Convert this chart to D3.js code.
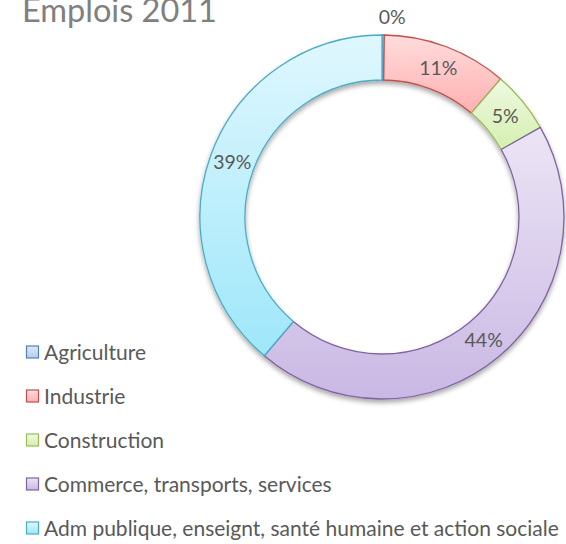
<!DOCTYPE html>
<html>
<head>
<meta charset="utf-8">
<script src="https://cdn.jsdelivr.net/npm/d3@7"></script>
<style>
  html, body { margin: 0; padding: 0; background: #fff; overflow: hidden; }
  svg { display: block; font-family: Lato, "Open Sans", sans-serif; }
</style>
</head>
<body>
<svg id="chart" width="566" height="544"></svg>
<script>
// Emplois 2011 - doughnut chart
const categories = ['Agriculture', 'Industrie', 'Construction', 'Commerce, transports, services', 'Adm publique, enseignt, santé humaine et action sociale'];
const values = [0.2, 11.1, 5.5, 44.4, 38.8];
const labels = ['0%', '11%', '5%', '44%', '39%'];

const fillTop = ['#dce8f7', '#ffdcdc', '#eff9e2', '#ece5f5', '#e0f7fe'];
const fillBottom = ['#b7cdec', '#ffb0b0', '#d5efb0', '#c9b8e4', '#9ee7fa'];
const strokes = ['#4f81bd', '#c0504d', '#9bbb59', '#8064a2', '#4bacc6'];

const width = 566, height = 544;
const cx = 382, cy = 217;
const outerR = 182, innerR = 137;

const svg = d3.select('#chart');
const defs = svg.append('defs');

categories.forEach((c, i) => {
  const g = defs.append('linearGradient')
    .attr('id', 'grad' + i)
    .attr('x1', 0).attr('y1', 0).attr('x2', 0).attr('y2', 1);
  g.append('stop').attr('offset', '0%').attr('stop-color', fillTop[i]);
  g.append('stop').attr('offset', '100%').attr('stop-color', fillBottom[i]);
});

const shadow = defs.append('filter').attr('id', 'shadow')
  .attr('x', '-10%').attr('y', '-10%').attr('width', '120%').attr('height', '125%');
shadow.append('feGaussianBlur').attr('in', 'SourceAlpha').attr('stdDeviation', 2.5);
shadow.append('feOffset').attr('dx', 0).attr('dy', 3).attr('result', 'b');
shadow.append('feComponentTransfer').append('feFuncA').attr('type', 'linear').attr('slope', 0.35);
const merge = shadow.append('feMerge');
merge.append('feMergeNode');
merge.append('feMergeNode').attr('in', 'SourceGraphic');

// Title (top is clipped in the original too)
svg.append('text')
  .attr('x', 22).attr('y', 22)
  .attr('font-size', 32.5)
  .attr('fill', '#808080')
  .text('Emplois 2011');

const pie = d3.pie().sort(null).value(d => d);
const arcs = pie(values);
const arc = d3.arc().innerRadius(innerR).outerRadius(outerR);

const ring = svg.append('g')
  .attr('transform', `translate(${cx},${cy})`);

const ringG = ring.append('g').attr('filter', 'url(#shadow)');
ringG.selectAll('path')
  .data(arcs)
  .enter()
  .append('path')
  .attr('d', arc)
  .attr('fill', (d, i) => `url(#grad${i})`)
  .attr('stroke', (d, i) => strokes[i])
  .attr('stroke-width', 1.3)
  .attr('stroke-linejoin', 'round');

// Data labels
const midR = (innerR + outerR) / 2;
const labelArc = d3.arc().innerRadius(midR).outerRadius(midR);
const outArc = d3.arc().innerRadius(outerR + 18).outerRadius(outerR + 18);
const isThin = d => (d.endAngle - d.startAngle) < 0.05;

ring.selectAll('text.lbl')
  .data(arcs)
  .enter()
  .append('text')
  .attr('class', 'lbl')
  .attr('transform', d => {
    // very thin slice: label outside the ring
    const p = isThin(d) ? outArc.centroid(d) : labelArc.centroid(d);
    const dx = isThin(d) ? 9 : 0;
    return `translate(${p[0] + dx},${p[1]})`;
  })
  .attr('text-anchor', 'middle')
  .attr('dy', '0.36em')
  .attr('font-size', 19.5)
  .attr('fill', '#595959')
  .text((d, i) => labels[i]);

// Legend
const legendY = d3.scalePoint()
  .domain(categories)
  .range([352, 528]);

const legend = svg.append('g');
const items = legend.selectAll('g')
  .data(categories)
  .enter()
  .append('g')
  .attr('transform', d => `translate(26,${legendY(d)})`);

items.append('rect')
  .attr('x', 0.5).attr('y', -6)
  .attr('width', 12).attr('height', 12)
  .attr('fill', (d, i) => `url(#grad${i})`)
  .attr('stroke', (d, i) => strokes[i])
  .attr('stroke-width', 1.2);

items.append('text')
  .attr('x', 18)
  .attr('dy', '0.36em')
  .attr('font-size', 21)
  .attr('fill', '#595959')
  .text(d => d);
</script>
</body>
</html>
